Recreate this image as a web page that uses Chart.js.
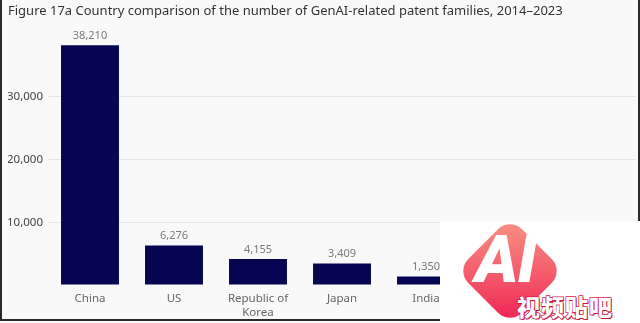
<!DOCTYPE html>
<html>
<head>
<meta charset="utf-8">
<script src="https://cdn.jsdelivr.net/npm/chart.js@4"></script>
<style>
html,body{margin:0;padding:0;background:#f9f9f9;}
#wrap{position:relative;width:640px;height:323px;overflow:hidden;background:#f9f9f9;}
canvas{position:absolute;left:0;top:0;}
#frame{position:absolute;left:0;top:0;width:636px;height:319px;border-left:2px solid #2a2a2a;border-right:2px solid #2a2a2a;border-bottom:2px solid #2a2a2a;pointer-events:none;}
#wm{position:absolute;left:440px;top:221px;width:200px;height:102px;background:#fff;overflow:hidden;}
#dia{position:absolute;left:32px;top:12px;width:76px;height:76px;border-radius:17px;transform:rotate(45deg);background:linear-gradient(135deg,#f99583 0%,#f4596a 55%,#ef1f55 100%);}
#ai{position:absolute;left:35px;top:6px;font-family:Roboto,"DejaVu Sans",sans-serif;font-weight:900;font-size:66px;line-height:66px;color:#fff;letter-spacing:-1px;font-style:italic;}
#cn{position:absolute;left:77px;top:71px;font-family:"Noto Sans CJK SC",sans-serif;font-weight:900;font-size:23px;line-height:28px;color:#fff;-webkit-text-stroke:1.5px #d81c48;paint-order:stroke fill;text-shadow:1px 1px 0 #c8163e;letter-spacing:1px;}
</style>
</head>
<body>
<div id="wrap">
<canvas id="c" width="640" height="323"></canvas>
<div id="frame"></div>
<div id="wm"><div id="dia"></div><div id="ai">AI</div><div id="cn">视频贴吧</div></div>
</div>
<script>
const titleText = 'Figure 17a Country comparison of the number of GenAI-related patent families, 2014–2023';
const categories = [['China'], ['US'], ['Republic of', 'Korea'], ['Japan'], ['India'], ['UK'], ['Germany']];
const patentFamilies = [38210, 6276, 4155, 3409, 1350, 714, 708];
const yTicks = [0, 10000, 20000, 30000, 40000];
const shownTicks = [10000, 20000, 30000];

const fmt = v => v.toLocaleString('en-US');

const valueLabels = {
  id: 'valueLabels',
  afterDatasetsDraw(chart) {
    const ctx = chart.ctx;
    const meta = chart.getDatasetMeta(0);
    ctx.save();
    ctx.font = '11px "Noto Sans", "Open Sans", sans-serif';
    ctx.fillStyle = '#7a7a7a';
    ctx.textAlign = 'center';
    ctx.textBaseline = 'bottom';
    meta.data.forEach((bar, i) => {
      ctx.fillText(fmt(patentFamilies[i]), bar.x, bar.y - 4);
    });
    ctx.restore();
  }
};

new Chart(document.getElementById('c'), {
  type: 'bar',
  data: {
    labels: categories,
    datasets: [{
      data: patentFamilies,
      backgroundColor: '#060652',
      borderWidth: 0,
      barPercentage: 0.69,
      categoryPercentage: 1.0
    }]
  },
  options: {
    responsive: false,
    animation: false,
    devicePixelRatio: 1,
    layout: { padding: { left: 8, right: 4, top: 0, bottom: 0 } },
    plugins: {
      legend: { display: false },
      tooltip: { enabled: false },
      title: {
        display: true,
        text: titleText,
        align: 'start',
        color: '#333',
        font: { family: '"Noto Sans", "Open Sans", sans-serif', size: 13, weight: 'normal' },
        padding: { top: 3, bottom: 15.4 }
      }
    },
    scales: {
      x: {
        afterFit(scale) { scale.height = 38; },
        grid: { display: false },
        border: { display: false },
        ticks: {
          color: '#666',
          font: { family: '"Noto Sans", "Open Sans", sans-serif', size: 11.5, lineHeight: 1.22 },
          padding: -1,
          maxRotation: 0,
          autoSkip: false
        }
      },
      y: {
        min: 0,
        max: 40000,
        afterBuildTicks(scale) { scale.ticks = yTicks.map(v => ({ value: v })); },
        afterFit(scale) { scale.width = 40; },
        border: { display: false },
        grid: {
          color: ctx => shownTicks.includes(ctx.tick && ctx.tick.value) ? '#e4e4e4' : 'rgba(0,0,0,0)',
          drawTicks: false
        },
        ticks: {
          color: '#444',
          font: { family: '"Noto Sans", "Open Sans", sans-serif', size: 11.5 },
          padding: 5,
          callback: v => shownTicks.includes(v) ? fmt(v) : ''
        }
      }
    }
  },
  plugins: [valueLabels]
});
</script>
</body>
</html>
